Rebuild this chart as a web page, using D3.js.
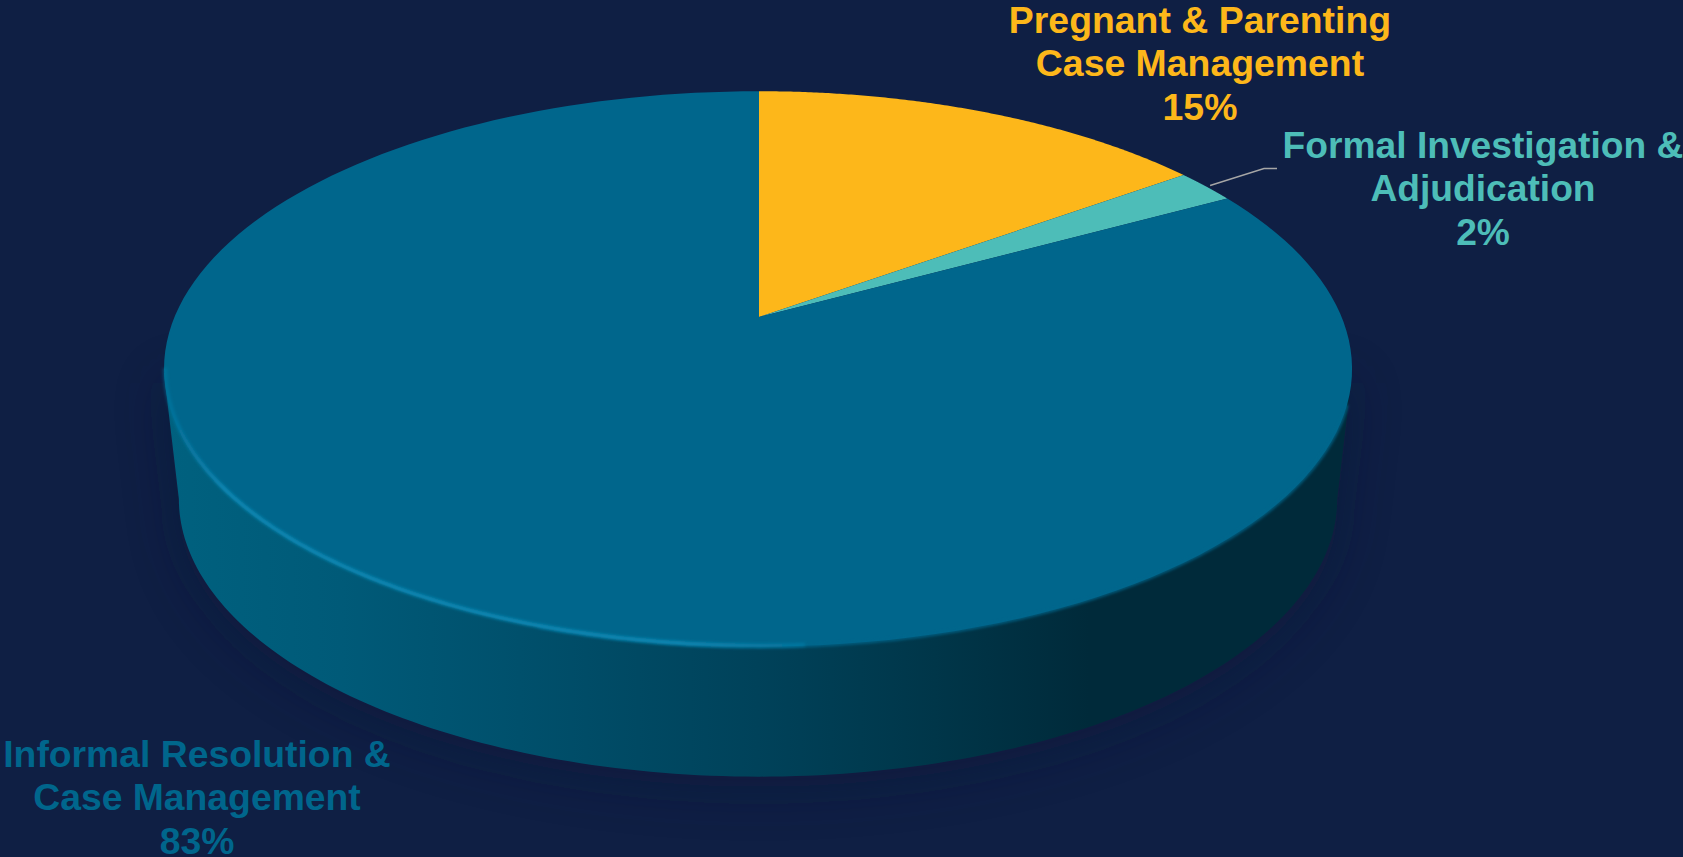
<!DOCTYPE html>
<html>
<head>
<meta charset="utf-8">
<script src="https://cdn.jsdelivr.net/npm/d3@7"></script>
<style>
  html, body { margin: 0; padding: 0; background: #0f1f44; overflow: hidden; }
  text { font-family: "Liberation Sans", Arial, sans-serif; font-weight: bold; }
</style>
</head>
<body>
<div id="visualization"></div>
<script>
const categories = ["Pregnant & Parenting Case Management", "Formal Investigation & Adjudication", "Informal Resolution & Case Management"];
const values = [15, 2, 83];
const colors = ["#fdb71a", "#4dbdb8", "#00668c"];

const labelLines = [
    ["Pregnant & Parenting", "Case Management", "15%"],
    ["Formal Investigation &", "Adjudication", "2%"],
    ["Informal Resolution &", "Case Management", "83%"]
];

const width = 1683, height = 857;

//Perspective set up for the tilted disc
const apex = {x: 759, y: 317};
const radiusLeft = 584.5, radiusRight = 582.6, radiusY = 268, tilt = 0.187;
const depth = 130, bottomShrink = 0.975;

const svgContainer = d3.select("#visualization")
    .append("svg")
    .attr("width", width)
    .attr("height", height)
    .style("display", "block");

svgContainer.append("rect")
    .attr("width", width)
    .attr("height", height)
    .attr("fill", "#0f1f44");

//angle is clockwise from 12 o'clock, like d3.pie
function project(angle, drop = 0, shrink = 1) {
    const u = Math.sin(angle), v = Math.cos(angle);
    const s = 1 / (1 + tilt * v);
    const radiusX = u < 0 ? radiusLeft : radiusRight;
    return [apex.x + radiusX * shrink * u * s, apex.y + drop - radiusY * v * s];
}

function arcPoints(a0, a1, drop = 0, shrink = 1) {
    return d3.range(0, 161).map(i => project(a0 + (a1 - a0) * i / 160, drop, shrink));
}

const line = d3.line();
const pie = d3.pie().sort(null)(values);

const defs = svgContainer.append("defs");

//filter regions in page units so the blur never gets clipped at the path's box
function addBlur(id, amount) {
    defs.append("filter").attr("id", id)
        .attr("filterUnits", "userSpaceOnUse")
        .attr("x", 0).attr("y", 0).attr("width", width).attr("height", height)
        .append("feGaussianBlur").attr("stdDeviation", amount);
}
addBlur("shadowBlur", 26);
addBlur("rimBlur", 1.6);

const wallGrad = defs.append("linearGradient").attr("id", "wallGrad")
    .attr("gradientUnits", "userSpaceOnUse")
    .attr("x1", 164).attr("x2", 1350).attr("y1", 0).attr("y2", 0);
[[0, "#00617f"], [0.15, "#005a78"], [0.3, "#00506c"], [0.5, "#00425a"], [0.65, "#003649"], [0.78, "#002a3a"], [1, "#002a3a"]]
    .forEach(d => wallGrad.append("stop").attr("offset", d[0]).attr("stop-color", d[1]));

const rimGrad = defs.append("linearGradient").attr("id", "rimGrad")
    .attr("gradientUnits", "userSpaceOnUse")
    .attr("x1", 164).attr("x2", 900).attr("y1", 0).attr("y2", 0);
[[0, "#0a7ba6", 0.5], [0.08, "#0c88b4", 1], [0.7, "#0c88b4", 1], [1, "#0c88b4", 0]]
    .forEach(d => rimGrad.append("stop").attr("offset", d[0]).attr("stop-color", d[1]).attr("stop-opacity", d[2]));

//Side wall: lower half of the bottom ellipse joined to the widest points of the top one
const leftA = Math.PI * 1.5 - Math.asin(tilt), rightA = Math.PI * 0.5 + Math.asin(tilt);
const wallPoints = [
    project(leftA, 4),
    ...arcPoints(leftA, rightA, depth, bottomShrink),
    project(rightA, 4)
];
const wallPath = line(wallPoints) + "Z";

svgContainer.append("path")
    .attr("d", wallPath)
    .attr("fill", "#0a1535")
    .attr("opacity", 0.45)
    .attr("transform", "translate(0,10)")
    .attr("filter", "url(#shadowBlur)");

svgContainer.append("path")
    .attr("d", wallPath)
    .attr("fill", "url(#wallGrad)");

//Top face slices
const chartG = svgContainer.append("g");
chartG.selectAll("path.slice")
    .data(pie)
    .enter()
    .append("path")
    .attr("class", "slice")
    .attr("fill", (d, i) => colors[i])
    .attr("d", d => line([[apex.x, apex.y], ...arcPoints(d.startAngle, d.endAngle)]) + "Z");

//Soft front edge of the big slice over the wall
chartG.append("path")
    .attr("d", line(arcPoints(Math.PI * 0.6, Math.PI * 1.1)))
    .attr("fill", "none")
    .attr("stroke", colors[2])
    .attr("stroke-width", 2.5)
    .attr("filter", "url(#rimBlur)");

//Light rim on the lower left edge
chartG.append("path")
    .attr("d", line(arcPoints(Math.PI * 1.44, Math.PI * 0.98)))
    .attr("fill", "none")
    .attr("stroke", "url(#rimGrad)")
    .attr("stroke-width", 4)
    .attr("transform", "translate(1,-1)")
    .attr("filter", "url(#rimBlur)");

//Leader line for the small slice
const midAngle = (pie[1].startAngle + pie[1].endAngle) / 2;
const leaderStart = project(midAngle);
svgContainer.append("polyline")
    .attr("points", [[leaderStart[0] + 4, leaderStart[1] - 1], [1264, 168.5], [1277, 168.5]].join(" "))
    .attr("fill", "none")
    .attr("stroke", "#a6a6a6")
    .attr("stroke-width", 1.4);

//Labels
const labelPos = [
    {x: 1200, y: 33, size: 37.4},
    {x: 1483, y: 158, size: 37.2},
    {x: 197, y: 767, size: 37.3}
];

labelLines.forEach((lines, i) => {
    const t = svgContainer.append("text")
        .attr("text-anchor", "middle")
        .attr("font-size", labelPos[i].size)
        .attr("fill", colors[i]);
    lines.forEach((s, j) => {
        t.append("tspan")
            .attr("x", labelPos[i].x)
            .attr("y", labelPos[i].y + j * 43.3)
            .text(s);
    });
});
</script>
</body>
</html>
